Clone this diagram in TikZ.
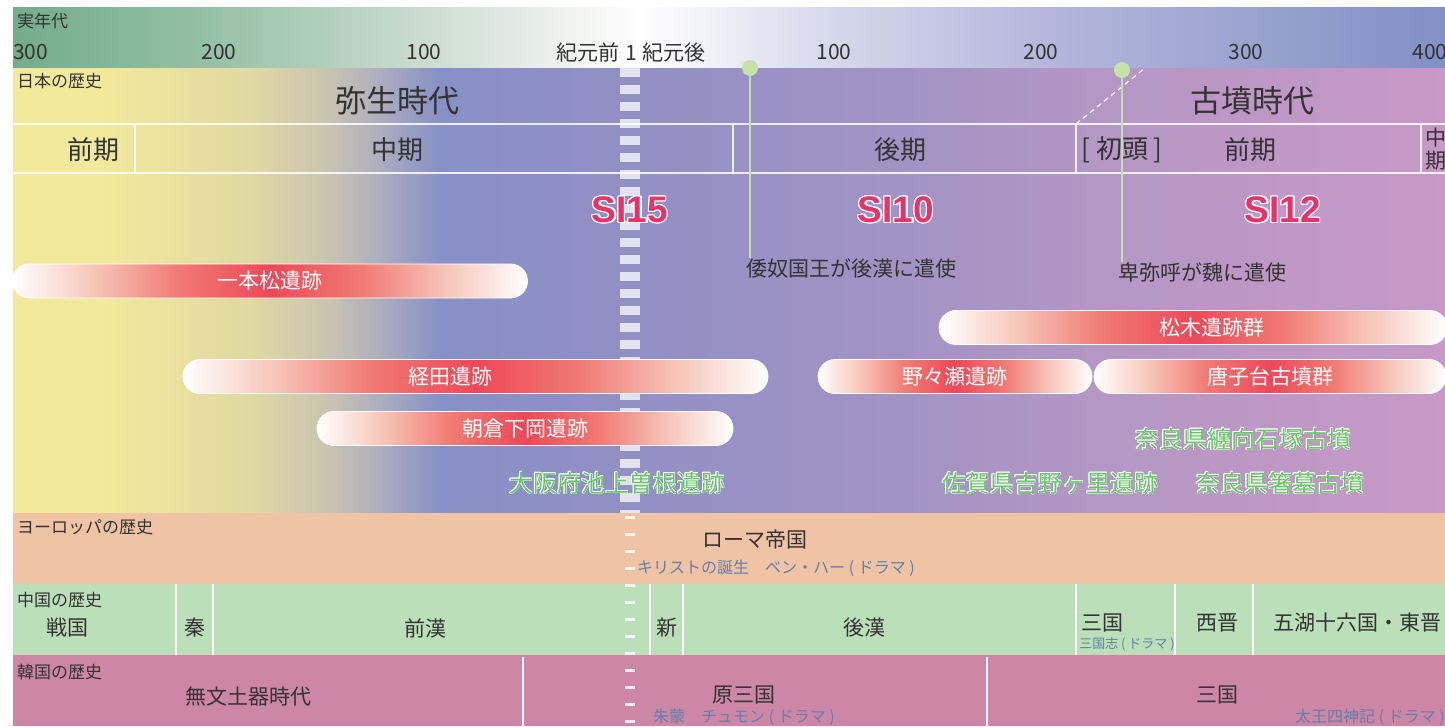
\documentclass[tikz,border=0pt]{standalone}
\usepackage{fontspec}
\setmainfont{Noto Sans CJK JP}
\newfontfamily\silfont{Liberation Sans}
\usepackage{tikz}
\usetikzlibrary{shapes.misc}
\definecolor{ink}{HTML}{333333}
\definecolor{t1}{HTML}{74AC89}
\definecolor{t2}{HTML}{94C0A4}
\definecolor{t3}{HTML}{C5D9CB}
\definecolor{t4}{HTML}{EEF2EE}
\definecolor{t5}{HTML}{D6D8EC}
\definecolor{t6}{HTML}{B5B8DC}
\definecolor{t7}{HTML}{9AA3D0}
\definecolor{t8}{HTML}{8290C6}
\definecolor{j1}{HTML}{F2E99C}
\definecolor{j2}{HTML}{E0D9A2}
\definecolor{j3}{HTML}{C8C3B2}
\definecolor{j4}{HTML}{ADADBE}
\definecolor{j5}{HTML}{8790C6}
\definecolor{j6}{HTML}{9290C5}
\definecolor{j7}{HTML}{A293C4}
\definecolor{j8}{HTML}{B497C5}
\definecolor{j9}{HTML}{C898C6}
\definecolor{eu}{HTML}{F0C3A5}
\definecolor{cn}{HTML}{BBDFB8}
\definecolor{kr}{HTML}{CE86A6}
\definecolor{leaf}{HTML}{C3E2A5}
\definecolor{si}{HTML}{E8336A}
\definecolor{site}{HTML}{66C866}
\definecolor{drama}{HTML}{6280AA}
\definecolor{b1}{HTML}{F7C4B8}
\definecolor{b2}{HTML}{F17B74}
\definecolor{b3}{HTML}{EE4858}
\pgfdeclarehorizontalshading{sitegrad}{100bp}{color(0bp)=(white); color(25bp)=(white); color(33bp)=(b1); color(41bp)=(b2); color(50bp)=(b3); color(59bp)=(b2); color(67bp)=(b1); color(75bp)=(white); color(100bp)=(white)}
\newcommand\fs[1]{\fontsize{#1}{#1}\selectfont}
\newcommand\outlined[3]{\leavevmode
  \rlap{\color{white}\kern-#3#2}\rlap{\color{white}\kern#3#2}%
  \rlap{\color{white}\raisebox{#3}{#2}}\rlap{\color{white}\raisebox{-#3}{#2}}%
  \rlap{\color{white}\kern-#3\raisebox{#3}{#2}}\rlap{\color{white}\kern#3\raisebox{#3}{#2}}%
  \rlap{\color{white}\kern-#3\raisebox{-#3}{#2}}\rlap{\color{white}\kern#3\raisebox{-#3}{#2}}%
  {\color{#1}#2}}

\begin{document}
\begin{tikzpicture}[x=1pt,y=-1pt,
  txt/.style={text=ink,inner sep=0pt},
  band/.style={txt,anchor=west,font=\fs{17}},
  era/.style={txt,font=\fs{31}},
  sub/.style={txt,font=\fs{21}},
  drama/.style={text=drama,inner sep=0pt,font=\fs{16}},
  sitebar/.style={rounded rectangle,shade,shading=sitegrad,draw=white,line width=.8pt,
    minimum height=34pt,inner sep=0pt,text=white,font=\fs{21}},
  sitename/.style={inner sep=0pt,font=\fs{24}},
  silabel/.style={inner sep=0pt,font=\silfont\bfseries\fs{37}},
  pinhead/.style={circle,fill=leaf,minimum size=16pt,inner sep=0pt}]
\useasboundingbox (0,0) rectangle (1445,726);
\clip (0,0) rectangle (1445,726);
\fill[white] (0,0) rectangle (1445,726);
% year scale and japan band
\foreach \xa/\ca/\xb/\cb in {13/t1/200/t2,200/t2/400/t3,400/t3/560/t4,560/t4/640/white,640/white/830/t5,830/t5/1040/t6,1040/t6/1250/t7,1250/t7/1445/t8}
  \shade[left color=\ca,right color=\cb] (\xa,7) rectangle (\xb+.5,68);
\foreach \xa/\ca/\xb/\cb in {13/j1/100/j1,100/j1/250/j2,250/j2/330/j3,330/j3/380/j4,380/j4/440/j5,440/j5/630/j6,630/j6/900/j7,900/j7/1100/j8,1100/j8/1445/j9}
  \shade[left color=\ca,right color=\cb] (\xa,68) rectangle (\xb+.5,513);
\fill[eu] (13,513) rectangle (1445,584);
\fill[cn] (13,584) rectangle (1445,655);
\fill[kr] (13,655) rectangle (1445,726);
\draw[white,opacity=.85,line width=1.5pt] (13,124) -- (1445,124) (13,173) -- (1445,173);
\foreach \x in {135,733,1076,1421}
  \draw[white,opacity=.85,line width=1.5pt] (\x,124) -- (\x,173);
\draw[white,line width=1.2pt,dash pattern=on 5pt off 4pt] (1076,124) -- (1145,68);
\foreach \x in {176,213,650,683,1076,1175,1253}
  \draw[white,line width=1.5pt] (\x,584) -- (\x,655);
\foreach \x in {523,987}
  \draw[white,line width=1.5pt] (\x,657) -- (\x,726);
% year 1 line
\draw[white,opacity=.75,line width=20pt,dash pattern=on 9pt off 8pt] (630,68) -- (630,513);
\draw[white,opacity=.85,line width=10pt,dash pattern=on 3pt off 14pt] (630,516) -- (630,726);
% labels of the scale
\node[band] (jitsu) at (17,21) {実年代};
\node[sub,anchor=west] (y300) at (13,52) {300};
\node[sub] (y200) at (219,52) {200};
\node[sub] (y100) at (424,52) {100};
\node[sub] (y1) at (631,52) {紀元前\hspace{6pt}1\hspace{6pt}紀元後};
\node[sub] (a100) at (834,52) {100};
\node[sub] (a200) at (1041,52) {200};
\node[sub] (a300) at (1246,52) {300};
\node[sub] (a400) at (1430,52) {400};
% japan
\node[band] (nihon) at (17,81) {日本の歴史};
\node[era] (yayoi) at (397,101) {弥生時代};
\node[era] (kofun) at (1252,101) {古墳時代};
\node[sub,font=\fs{26}] (yzenki) at (93,150) {前期};
\node[sub,font=\fs{26}] (ychuki) at (397,150) {中期};
\node[sub,font=\fs{26}] (ykoki) at (900,150) {後期};
\node[sub,font=\fs{26}] (kshoto) at (1122,150) {[ 初頭 ]};
\node[sub,font=\fs{26}] (kzenki) at (1250,150) {前期};
\node[sub,align=center,font=\fontsize{21}{23}\selectfont] (kchuki) at (1436,149) {中\\期};
\node[silabel] (si15) at (630,210) {\outlined{si}{SI15}{1.2pt}};
\node[silabel] (si10) at (896,210) {\outlined{si}{SI10}{1.2pt}};
\node[silabel] (si12) at (1283,210) {\outlined{si}{SI12}{1.2pt}};
\node[sub] (nakokutxt) at (851,268) {倭奴国王が後漢に遣使};
\node[sub] (himikotxt) at (1202,272) {卑弥呼が魏に遣使};
\node[pinhead] (nakoku) at (750,68) {};
\node[pinhead] (himiko) at (1122,70) {};
\draw[leaf,line width=1.2pt] (nakoku) -- (nakoku |- nakokutxt.north);
\draw[leaf,line width=1.2pt] (himiko) -- (himiko |- himikotxt.north);
\node[sitebar,minimum width=515pt] (ipponmatsu) at (270,281) {一本松遺跡};
\node[sitebar,minimum width=508pt] (matsuki) at (1193,327.5) {松木遺跡群\hspace*{-38pt}};
\node[sitebar,minimum width=585pt] (kyoden) at (475.5,376.5) {\hspace*{-50pt}経田遺跡};
\node[sitebar,minimum width=274pt] (nonose) at (955,376.5) {野々瀬遺跡};
\node[sitebar,minimum width=352pt] (karakodai) at (1270,376.5) {唐子台古墳群};
\node[sitebar,minimum width=416pt] (asakura) at (525,428.5) {朝倉下岡遺跡};
\node[sitename] (ikegami) at (617,483) {\outlined{site}{大阪府池上曽根遺跡}{.8pt}};
\node[sitename] (yoshino) at (1050,483) {\outlined{site}{佐賀県吉野ヶ里遺跡}{.8pt}};
\node[sitename] (makimuku) at (1243,439) {\outlined{site}{奈良県纏向石塚古墳}{.8pt}};
\node[sitename] (hashihaka) at (1280,483) {\outlined{site}{奈良県箸墓古墳}{.8pt}};
% europe
\node[band] (europe) at (17,527) {ヨーロッパの歴史};
\node[sub] (roma) at (755,540) {ローマ帝国};
\node[drama] (benhur) at (776,568) {キリストの誕生　ベン・ハー ( ドラマ )};
% china
\node[band] (china) at (17,600) {中国の歴史};
\node[sub] (sengoku) at (67,628) {戦国};
\node[sub] (shin) at (195,628) {秦};
\node[sub] (zenkan) at (425,628) {前漢};
\node[sub] (xin) at (667,628) {新};
\node[sub] (gokan) at (864,628) {後漢};
\node[sub] (sangoku) at (1102,623) {三国};
\node[drama,font=\fs{13}] (sangokushi) at (1127,644) {三国志 ( ドラマ )};
\node[sub] (seishin) at (1217,623) {西晋};
\node[sub] (goko) at (1357,623) {五湖十六国・東晋};
% korea
\node[band] (korea) at (17,672) {韓国の歴史};
\node[sub] (mumon) at (248,697) {無文土器時代};
\node[sub] (gensan) at (744,695) {原三国};
\node[drama] (jumong) at (744,717) {朱蒙　チュモン ( ドラマ )};
\node[sub] (ksangoku) at (1217,695) {三国};
\node[drama] (taewang) at (1370,717) {太王四神記 ( ドラマ )};
\end{tikzpicture}
\end{document}
